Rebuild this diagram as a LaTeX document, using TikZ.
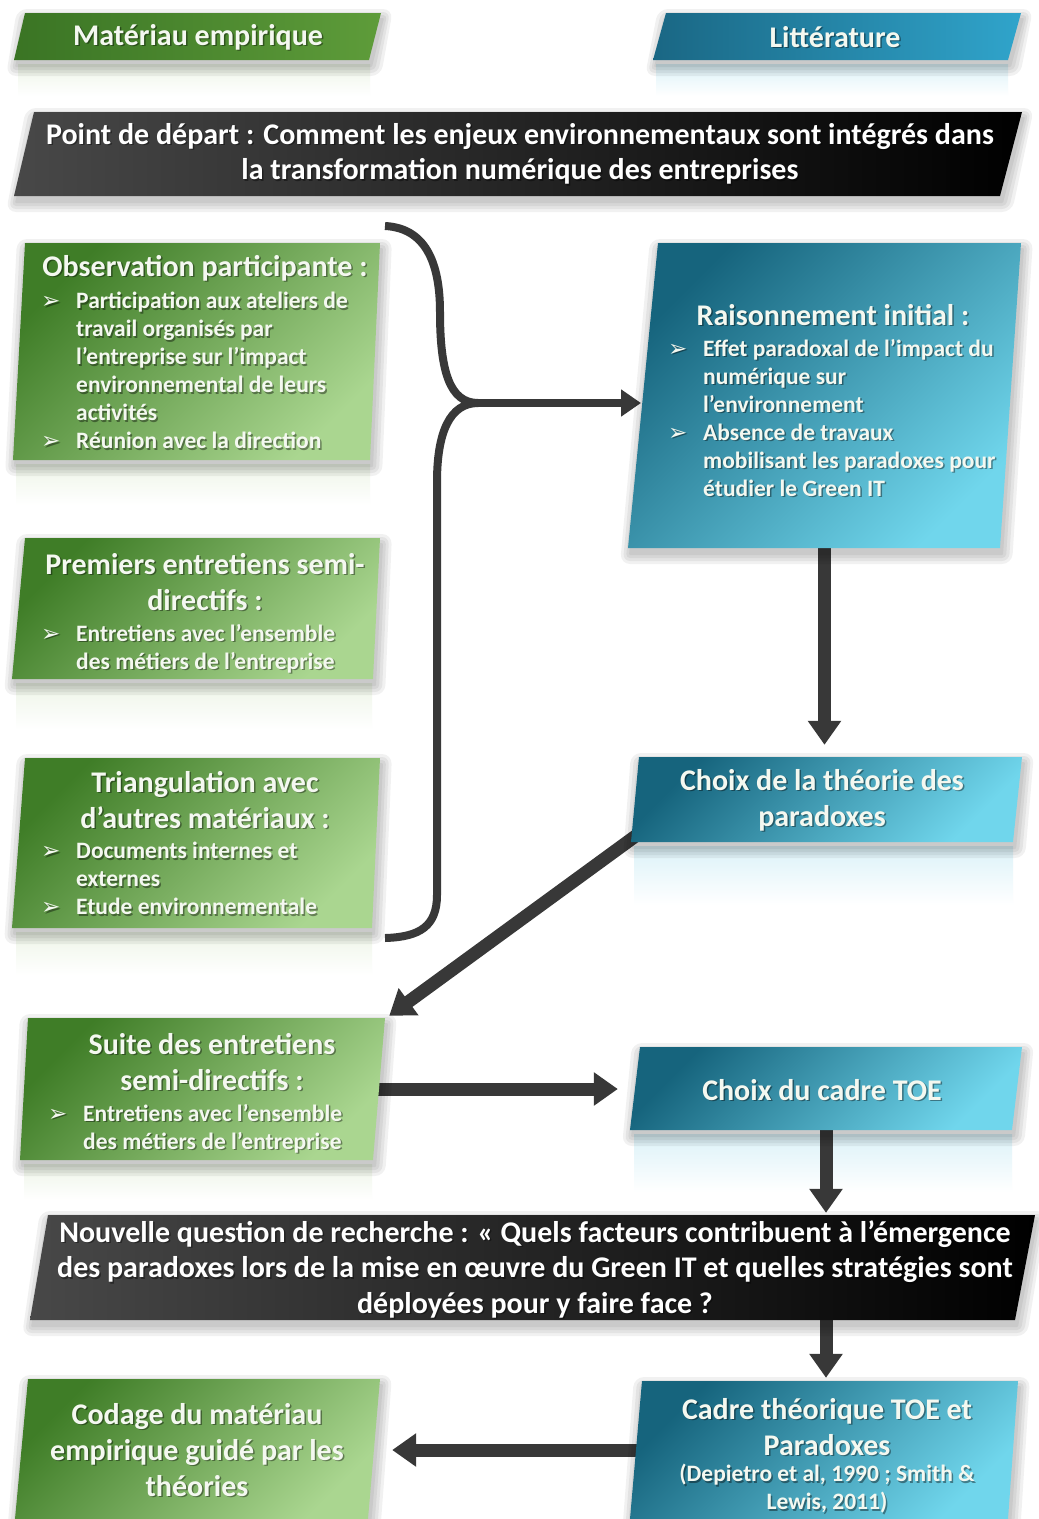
\documentclass[tikz,border=0pt]{standalone}
\usepackage{fontspec}
\setmainfont{Carlito}
\newfontfamily\symfont{DejaVu Sans}
\usetikzlibrary{arrows.meta,calc,fit}

\pgfdeclarelayer{back}
\pgfdeclarelayer{links}
\pgfsetlayers{back,links,main}

\definecolor{gDark}{HTML}{3F7D27}
\definecolor{gLight}{HTML}{AAD690}
\definecolor{gTabL}{HTML}{3A7424}
\definecolor{gTabR}{HTML}{5E9C3A}
\definecolor{gRefl}{HTML}{EEF5E8}
\definecolor{bDark}{HTML}{16647D}
\definecolor{bLight}{HTML}{70D6EC}
\definecolor{bTabL}{HTML}{1A6784}
\definecolor{bTabR}{HTML}{30A4CB}
\definecolor{bRefl}{HTML}{DCF2F8}
\definecolor{kLeft}{HTML}{484848}
\definecolor{arrowC}{HTML}{383838}
\definecolor{txtW}{HTML}{F4F8F0}

% bullet and continuation indent for the lists
\newcommand\bl{\makebox[35pt][l]{\symfont\mdseries\fontsize{23}{23}\selectfont ➢}}
\newcommand\ct{\hspace*{35pt}}

% slanted box: name, x bottom-left, y top, x top-right, y bottom, left slant, right slant, fill style
\newcommand\slab[8]{%
  \node[fit={(#2,#3)(#4,#5)}, inner sep=0pt] (#1) {};
  \foreach \d in {10,7,4,1}{
    \fill[black, opacity=0.055, rounded corners=\d pt]
      ({#2+#6-\d+2},{#3-\d+6}) -- ({#4+\d+2},{#3-\d+6}) --
      ({#4-#7+\d+2},{#5+\d+6}) -- ({#2-\d+2},{#5+\d+6}) -- cycle;}
  \path[#8] ({#2+#6},#3) -- (#4,#3) -- ({#4-#7},#5) -- (#2,#5) -- cycle;}

% text with a soft dark shadow: name, style, position, content
\newcommand\etxt[4]{%
  \node[#2, text=black, text opacity=0.4] (#1-sh) at ($(#3)+(1.5,1.5)$) {#4};
  \node[#2] (#1) at (#3) {#4};}

\tikzset{
  ttl/.style={font=\bfseries\fontsize{30}{36}\selectfont, text=txtW, align=center, inner sep=0pt},
  bigttl/.style={font=\bfseries\fontsize{30}{35.5}\selectfont, text=white, align=center, inner sep=0pt},
  lst/.style={font=\bfseries\fontsize{23.5}{28}\selectfont, text=txtW, align=left, inner sep=0pt, anchor=north west},
  cite/.style={font=\bfseries\fontsize{23.5}{28}\selectfont, text=txtW, align=center, inner sep=0pt},
  link/.style={draw=arrowC, line width=13pt, -{Triangle[width=32pt,length=24pt]}},
  thinlink/.style={draw=arrowC, line width=8pt, -{Triangle[width=26pt,length=20pt]}},
  brace/.style={draw=arrowC, line width=8pt},
  greentab/.style={left color=gTabL, right color=gTabR},
  bluetab/.style={left color=bTabL, right color=bTabR},
  blackbox/.style={left color=kLeft, right color=black},
  greenbox/.style={top color=gDark, bottom color=gLight, shading angle=45},
  bluebox/.style={top color=bDark, bottom color=bLight, shading angle=45},
}

\begin{document}
\begin{tikzpicture}[x=1pt,y=-1pt]
\useasboundingbox (0,0) rectangle (1039,1519);

\begin{pgfonlayer}{back}
  \fill[white] (0,0) rectangle (1039,1519);
  % faint reflections under the boxes
  \fill[top color=gRefl, bottom color=white] (18,64) rectangle (370,96);
  \fill[top color=bRefl, bottom color=white] (656,64) rectangle (1008,96);
  \fill[top color=gRefl, bottom color=white] (16,464) rectangle (370,505);
  \fill[top color=gRefl, bottom color=white] (16,683) rectangle (372,730);
  \fill[top color=gRefl, bottom color=white] (16,932) rectangle (372,975);
  \fill[top color=gRefl, bottom color=white] (24,1164) rectangle (372,1200);
  \fill[top color=bRefl, bottom color=white] (634,846) rectangle (1013,905);
  \fill[top color=bRefl, bottom color=white] (634,1134) rectangle (1012,1192);
\end{pgfonlayer}

% headers
\slab{matTab}{14}{13}{381}{60}{11}{12}{greentab}
\slab{litTab}{653}{13}{1021}{60}{13}{13}{bluetab}
\slab{startBox}{14}{112}{1022}{196}{20}{22}{blackbox}

% empirical material column
\slab{obsBox}{13}{243}{380}{460}{12}{10}{greenbox}
\slab{premBox}{12}{538}{380}{679}{13}{7}{greenbox}
\slab{triBox}{12}{758}{380}{928}{13}{8}{greenbox}
\slab{suiteBox}{20}{1018}{385}{1160}{8}{12}{greenbox}
\slab{codBox}{15}{1379}{380}{1519}{13}{12}{greenbox}

% literature column
\slab{raisBox}{628}{243}{1021}{548}{30}{21}{bluebox}
\slab{thBox}{631}{757}{1022}{842}{8}{9}{bluebox}
\slab{toeBox}{630}{1047}{1022}{1130}{10}{10}{bluebox}
\slab{cadBox}{630}{1381}{1018}{1519}{12}{10}{bluebox}

% research question
\slab{qBox}{30}{1215}{1035}{1320}{18}{20}{blackbox}

% connectors
\begin{pgfonlayer}{links}
  \coordinate (braceTip) at (478,403);
  \coordinate (raisIn) at (641,403);
  \draw[brace] (385,226) .. controls (425,228) and (440,262) .. (440,312)
    .. controls (440,372) and (450,403) .. (braceTip)
    .. controls (450,403) and (437,432) .. (437,482) -- (437,895)
    .. controls (437,926) and (420,937) .. (385,938);
  \draw[thinlink] (braceTip) -- (raisIn);
  \draw[link, shorten >=12pt] (raisBox.center) -- (raisBox.center |- thBox.north);
  \draw[link] ($(thBox.south west)+(10,-10)$) -- ($(suiteBox.north east)+(4,-2)$);
  \draw[link, shorten >=12pt] (suiteBox.center) -- (suiteBox.center -| toeBox.west);
  \draw[link, shorten >=2pt] (toeBox.center) -- (toeBox.center |- qBox.north);
  \draw[link, shorten >=3pt] (toeBox.center |- qBox.center) -- (toeBox.center |- cadBox.north);
  \draw[link, shorten >=12pt] (cadBox.center) -- (cadBox.center -| codBox.east);
\end{pgfonlayer}

% texts
\etxt{matT}{ttl}{198,37}{Matériau empirique}
\etxt{litT}{ttl}{835,37}{Littérature}
\etxt{startT}{bigttl}{520,154}{Point de départ : Comment les enjeux environnementaux sont intégrés dans\\la transformation numérique des entreprises}

\etxt{obsT}{ttl}{205,268}{Observation participante :}
\etxt{obsL}{lst}{41,292}{\bl Participation aux ateliers de\\\ct travail organisés par\\\ct l’entreprise sur l’impact\\\ct environnemental de leurs\\\ct activités\\\bl Réunion avec la direction}

\etxt{premT}{ttl}{205,582}{Premiers entretiens semi-\\directifs :}
\etxt{premL}{lst}{41,624}{\bl Entretiens avec l’ensemble\\\ct des métiers de l’entreprise}

\etxt{triT}{ttl}{205,800}{Triangulation avec\\d’autres matériaux :}
\etxt{triL}{lst}{41,842}{\bl Documents internes et\\\ct externes\\\bl Etude environnementale}

\etxt{suiteT}{ttl}{212,1062}{Suite des entretiens\\semi-directifs :}
\etxt{suiteL}{lst}{48,1104}{\bl Entretiens avec l’ensemble\\\ct des métiers de l’entreprise}

\etxt{codT}{ttl}{197,1450}{Codage du matériau\\empirique guidé par les\\théories}

\etxt{raisT}{ttl}{833,315}{Raisonnement initial :}
\etxt{raisL}{lst}{668,339}{\bl Effet paradoxal de l’impact du\\\ct numérique sur\\\ct l’environnement\\\bl Absence de travaux\\\ct mobilisant les paradoxes pour\\\ct étudier le Green IT}

\etxt{thT}{ttl}{822,800}{Choix de la théorie des\\paradoxes}
\etxt{toeT}{ttl}{822,1090}{Choix du cadre TOE}

\etxt{qT}{bigttl}{535,1269}{Nouvelle question de recherche : « Quels facteurs contribuent à l’émergence\\des paradoxes lors de la mise en œuvre du Green IT et quelles stratégies sont\\déployées pour y faire face ?}

\etxt{cadT}{ttl}{827,1427}{Cadre théorique TOE et\\Paradoxes}
\etxt{cadC}{cite}{827,1489}{(Depietro et al, 1990 ; Smith \&\\Lewis, 2011)}
\end{tikzpicture}
\end{document}
